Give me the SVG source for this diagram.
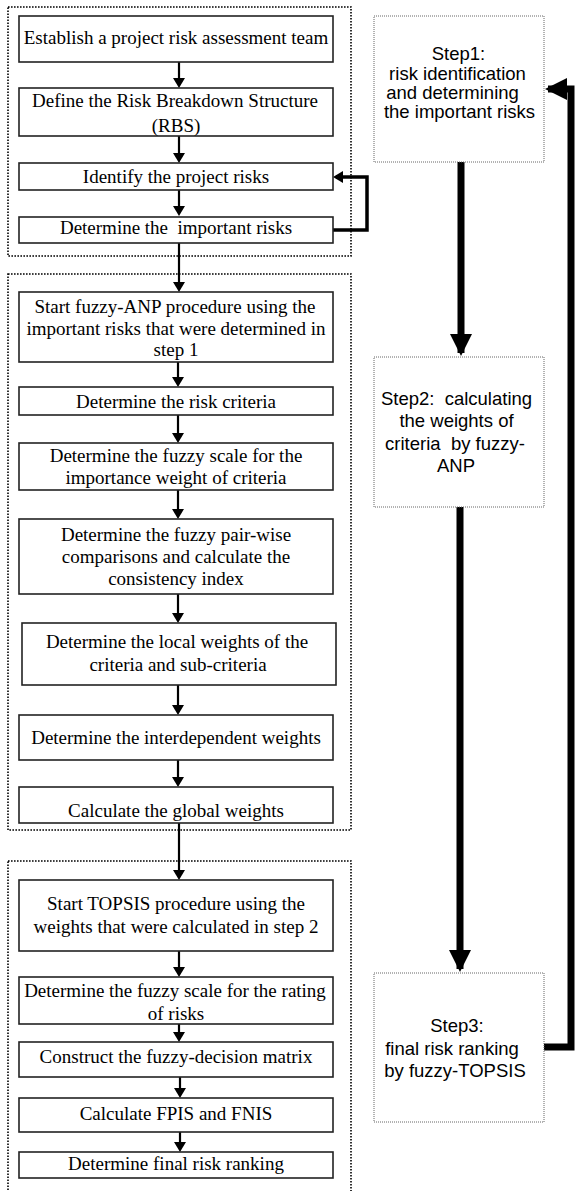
<svg xmlns="http://www.w3.org/2000/svg" width="576" height="1191" viewBox="0 0 576 1191">
<style>
.box{fill:#fff;stroke:#222;stroke-width:1.6}
.grp{fill:none;stroke:#000;stroke-width:1.6;stroke-dasharray:1.6 1.4}
.step{fill:#fff;stroke:#666;stroke-width:1;stroke-dasharray:1 1}
.t{font-family:"Liberation Serif","Times New Roman",serif;font-size:19px;text-anchor:middle;fill:#000}
.s{font-family:"Liberation Sans",Arial,sans-serif;font-size:18.5px;text-anchor:middle;fill:#000}
.thin{fill:none;stroke:#000;stroke-width:2.2;marker-end:url(#ah)}
.loop{fill:none;stroke:#000;stroke-width:3.5;stroke-linejoin:miter;marker-end:url(#ah)}
.thick{fill:none;stroke:#000;stroke-width:7;stroke-linejoin:miter;marker-end:url(#bh)}
</style>
<defs>
<marker id="ah" markerUnits="userSpaceOnUse" markerWidth="10" markerHeight="12" refX="7" refY="6" orient="auto" viewBox="0 0 10 12">
<path d="M0,0 L10,6 L0,12 z" fill="#000"/>
</marker>
<marker id="bh" markerUnits="userSpaceOnUse" markerWidth="22" markerHeight="22" refX="19" refY="11" orient="auto" viewBox="0 0 22 22">
<path d="M0,0 L22,11 L0,22 z" fill="#000"/>
</marker>
</defs>

<g id="groups">
<rect id="group1" class="grp" x="8" y="7" width="343" height="249"/>
<rect id="group2" class="grp" x="8" y="274" width="343" height="556"/>
<rect id="group3" class="grp" x="8" y="861" width="343" height="345"/>
</g>

<g id="connectors">
<line class="thin" x1="179" y1="62" x2="179" y2="85"/>
<line class="thin" x1="179" y1="136" x2="179" y2="160"/>
<line class="thin" x1="179" y1="190" x2="179" y2="213"/>
<line class="thin" x1="179" y1="243" x2="179" y2="289"/>
<line class="thin" x1="178" y1="355" x2="178" y2="384"/>
<line class="thin" x1="178" y1="415" x2="178" y2="440"/>
<line class="thin" x1="178" y1="490" x2="178" y2="516"/>
<line class="thin" x1="178" y1="594" x2="178" y2="620"/>
<line class="thin" x1="178" y1="685" x2="178" y2="712"/>
<line class="thin" x1="178" y1="760" x2="178" y2="784"/>
<line class="thin" x1="179" y1="823" x2="179" y2="877"/>
<line class="thin" x1="179" y1="951" x2="179" y2="974"/>
<line class="thin" x1="179" y1="1024" x2="179" y2="1039"/>
<line class="thin" x1="180" y1="1077" x2="180" y2="1095"/>
<line class="thin" x1="180" y1="1132" x2="180" y2="1149"/>
<path class="loop" d="M333,230 H367 V177 H336"/>
<line class="thick" x1="461" y1="162" x2="461" y2="353"/>
<line class="thick" x1="460" y1="507" x2="460" y2="969"/>
<path class="thick" d="M544,1047 H571 V89 H548"/>
</g>

<g id="n1"><rect class="box" x="19" y="16" width="314" height="46"/><text class="t" x="176" y="44">Establish a project risk assessment team</text></g>
<g id="n2"><rect class="box" x="19" y="88" width="314" height="48"/><text class="t" x="175" y="107">Define the Risk Breakdown Structure</text><text class="t" x="176" y="132">(RBS)</text></g>
<g id="n3"><rect class="box" x="19" y="163" width="314" height="27"/><text class="t" x="176" y="183">Identify the project risks</text></g>
<g id="n4"><rect class="box" x="19" y="217" width="314" height="26"/><text class="t" x="176" y="234" xml:space="preserve">Determine the  important risks</text></g>

<g id="n5"><rect class="box" x="19" y="292" width="314" height="70"/><text class="t" x="175" y="313">Start fuzzy-ANP procedure using the</text><text class="t" x="176" y="335">important risks that were determined in</text><text class="t" x="176" y="356">step 1</text></g>
<g id="n6"><rect class="box" x="19" y="387" width="314" height="28"/><text class="t" x="176" y="408">Determine the risk criteria</text></g>
<g id="n7"><rect class="box" x="19" y="443" width="314" height="47"/><text class="t" x="176" y="462">Determine the fuzzy scale for the</text><text class="t" x="176" y="484">importance weight of criteria</text></g>
<g id="n8"><rect class="box" x="19" y="519" width="314" height="75"/><text class="t" x="176" y="541">Determine the fuzzy pair-wise</text><text class="t" x="176" y="563">comparisons and calculate the</text><text class="t" x="176" y="585">consistency index</text></g>
<g id="n9"><rect class="box" x="22" y="623" width="314" height="62"/><text class="t" x="177" y="648">Determine the local weights of the</text><text class="t" x="178" y="671">criteria and sub-criteria</text></g>
<g id="n10"><rect class="box" x="19" y="715" width="314" height="45"/><text class="t" x="176" y="744">Determine the interdependent weights</text></g>
<g id="n11"><rect class="box" x="19" y="787" width="314" height="36"/><text class="t" x="176" y="817">Calculate the global weights</text></g>

<g id="n12"><rect class="box" x="19" y="880" width="314" height="71"/><text class="t" x="176" y="910">Start TOPSIS procedure using the</text><text class="t" x="176" y="933">weights that were calculated in step 2</text></g>
<g id="n13"><rect class="box" x="19" y="977" width="314" height="47"/><text class="t" x="175" y="997">Determine the fuzzy scale for the rating</text><text class="t" x="176" y="1020">of risks</text></g>
<g id="n14"><rect class="box" x="19" y="1042" width="314" height="35"/><text class="t" x="176" y="1063">Construct the fuzzy-decision matrix</text></g>
<g id="n15"><rect class="box" x="19" y="1098" width="314" height="34"/><text class="t" x="176" y="1120">Calculate FPIS and FNIS</text></g>
<g id="n16"><rect class="box" x="19" y="1152" width="314" height="26"/><text class="t" x="176" y="1170">Determine final risk ranking</text></g>

<g id="step1"><rect class="step" x="374" y="16" width="170" height="146"/>
<text class="s" x="458.5" y="60">Step1:</text>
<text class="s" x="457.5" y="79.5">risk identification</text>
<text class="s" x="452.5" y="98.5">and determining</text>
<text class="s" x="459.5" y="118">the important risks</text></g>
<g id="step2"><rect class="step" x="374" y="357" width="170" height="150"/>
<text class="s" x="456.5" y="405" xml:space="preserve">Step2:  calculating</text>
<text class="s" x="456.5" y="426.5">the weights of</text>
<text class="s" x="455" y="449.5" xml:space="preserve">criteria  by fuzzy-</text>
<text class="s" x="456" y="472">ANP</text></g>
<g id="step3"><rect class="step" x="374" y="973" width="170" height="149"/>
<text class="s" x="457" y="1032">Step3:</text>
<text class="s" x="452" y="1054.5">final risk ranking</text>
<text class="s" x="455" y="1077">by fuzzy-TOPSIS</text></g>
</svg>
